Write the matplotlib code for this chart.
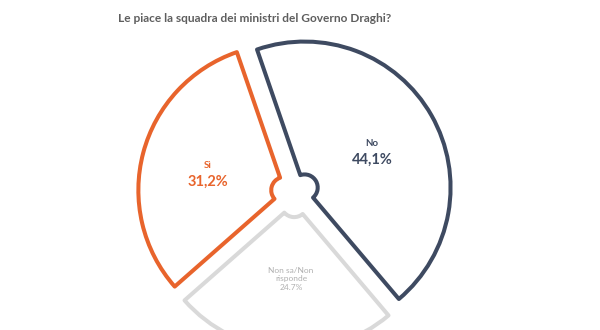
import matplotlib
matplotlib.use("Agg")
import matplotlib.pyplot as plt

labels = ["No", "Non sa/Non\nrisponde", "Sì"]
values = [44.1, 24.7, 31.2]
colors = ["#3e4a61", "#d9d9d9", "#e8642c"]
title = "Le piace la squadra dei ministri del Governo Draghi?"

W, H = 600, 330
fig = plt.figure(figsize=(W / 100, H / 100), dpi=100)
ax = fig.add_axes([0, 0, 1, 1])

# pie in pixel coordinates; explode is in data units here
cx, cy, R = 295, H - 193, 146
wedges, _ = ax.pie(values, colors=["white"] * 3, startangle=109, counterclock=False,
                   center=(cx, cy), radius=R, explode=[11] * 3,
                   wedgeprops=dict(width=R * 0.91, linewidth=2.9, joinstyle="round"))
for w, c in zip(wedges, colors):
    w.set_edgecolor(c)

ax.set_xlim(0, W)
ax.set_ylim(0, H)
ax.set_aspect("equal")
ax.axis("off")

fnt = "Lato"
ax.text(118, H - 19, title, ha="left", va="center", fontsize=8.6,
        fontweight="bold", color="#5e5e5e", family=fnt)

ax.text(372, H - 143, labels[0], ha="center", va="center", fontsize=7,
        fontweight="bold", color=colors[0], family=fnt)
ax.text(372, H - 160, f"{values[0]:.1f}%".replace(".", ","), ha="center", va="center",
        fontsize=10.5, fontweight="bold", color=colors[0], family=fnt)

ax.text(208, H - 165, labels[2], ha="center", va="center", fontsize=7,
        fontweight="bold", color=colors[2], family=fnt)
ax.text(208, H - 182, f"{values[2]:.1f}%".replace(".", ","), ha="center", va="center",
        fontsize=10.5, fontweight="bold", color=colors[2], family=fnt)

ax.text(291, H - 279, labels[1] + f"\n{values[1]:.1f}%", ha="center", va="center",
        fontsize=6, color="#b0b0b0", family=fnt, linespacing=1.25)

fig.savefig("out.png", dpi=100)
